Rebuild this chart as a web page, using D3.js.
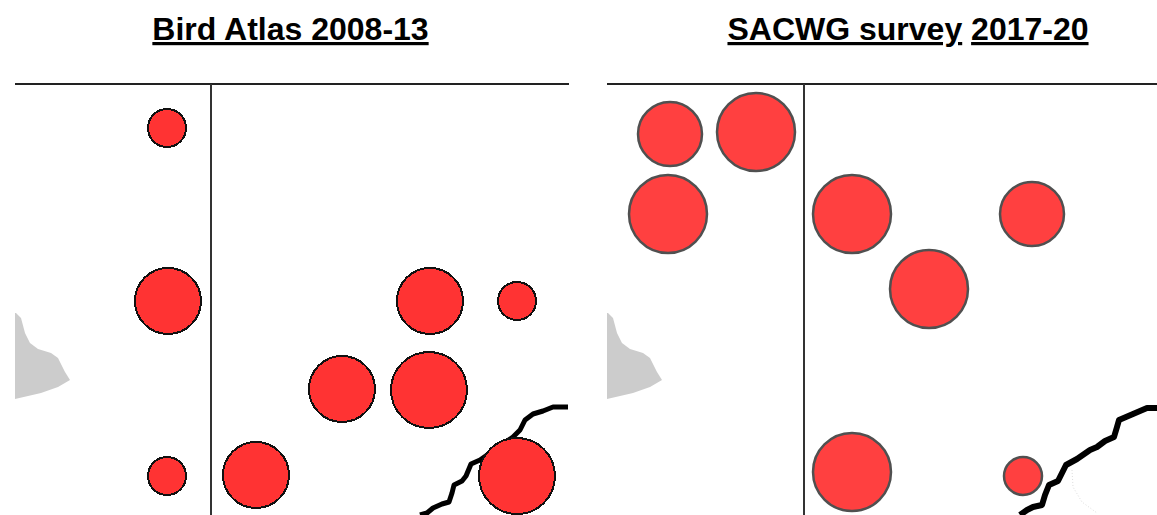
<!DOCTYPE html>
<html>
<head>
<meta charset="utf-8">
<script src="https://cdn.jsdelivr.net/npm/d3@7"></script>
<style>
	html, body { margin: 0; padding: 0; background: #fff; }
	svg { display: block; }
	text { font-family: "Liberation Sans", Arial, sans-serif; font-weight: bold; fill: #000; }
</style>
</head>
<body>
<script>
"use strict";

var atlasX    = [152, 153, 415, 502, 327, 414, 152, 241, 502];
var atlasY    = [ 44, 217, 217, 217, 305, 306, 392, 391, 392];
var atlasSize = [ 19,  33,  33,  19,  33,  38,  19,  33,  38];

var surveyX    = [ 63, 149,  61, 245, 425, 322, 245, 416];
var surveyY    = [ 50,  48, 130, 130, 130, 205, 388, 392];
var surveySize = [ 32,  39,  39,  39,  32,  39,  39,  19];

var atlasCoastX = [405, 412, 418, 427, 434, 437, 439, 447, 451, 456, 465, 498, 505, 510, 518, 528, 538, 553];
var atlasCoastY = [431, 429, 424, 420, 418, 409, 401, 397, 392, 380, 376, 353, 346, 336, 330, 327, 323, 323];

var surveyCoastX = [413, 420, 426, 435, 438, 442, 451, 455, 459, 470, 483, 490, 498, 507, 510, 512, 526, 540, 550];
var surveyCoastY = [431, 426, 423, 421, 411, 401, 397, 389, 381, 375, 366, 363, 357, 353, 343, 336, 330, 324, 324];

var faintX = [465, 466, 475, 490];
var faintY = [386, 403, 418, 429];

var islandX = [ 0,  1,  6, 10, 15, 23, 36, 43, 50, 55, 43, 26,  0];
var islandY = [229, 229, 234, 249, 259, 265, 269, 274, 288, 296, 303, 309, 315];

var titleAtlas = ["Bird Atlas 2008-13"];
var titleSurvey = ["SACWG survey", "2017-20"];

var width = 1157;
var height = 515;
var panelTop = 84;
var panelHeight = height - panelTop;

var svg = d3.select("body").append("svg")
	.attr("width", width)
	.attr("height", height);

function zipXY(xs, ys) {
	return xs.map(function(d, i) { return [d, ys[i]]; });
}

function drawPanel(opts) {
	var x = d3.scaleLinear().domain([0, opts.width]).range([opts.left, opts.left + opts.width]);
	var y = d3.scaleLinear().domain([0, panelHeight]).range([panelTop, height]);
	var line = d3.line()
		.x(function(d) { return x(d[0]); })
		.y(function(d) { return y(d[1]); });

	var clipId = "clip" + opts.left;
	svg.append("clipPath").attr("id", clipId)
		.append("rect")
		.attr("x", opts.left).attr("y", panelTop)
		.attr("width", opts.width).attr("height", panelHeight);

	var g = svg.append("g").attr("clip-path", "url(#" + clipId + ")");

	g.append("path")
		.attr("d", line(zipXY(islandX, islandY)) + "Z")
		.attr("fill", "#cccccc");

	if (opts.faint) {
		g.append("path")
			.attr("d", line(zipXY(faintX, faintY)))
			.attr("fill", "none")
			.attr("stroke", "#dddddd")
			.attr("stroke-dasharray", "1,2");
	}

	g.append("path")
		.attr("d", line(zipXY(opts.coastX, opts.coastY)))
		.attr("fill", "none")
		.attr("stroke", "#000")
		.attr("stroke-width", opts.coastWidth)
		.attr("stroke-linejoin", "round");

	g.selectAll("circle")
		.data(opts.circleX)
		.enter().append("circle")
		.attr("cx", function(d) { return x(d); })
		.attr("cy", function(d, i) { return y(opts.circleY[i]); })
		.attr("r", function(d, i) { return opts.circleSize[i]; })
		.attr("fill", opts.fill)
		.attr("stroke", opts.stroke)
		.attr("stroke-width", opts.strokeWidth)
		.attr("shape-rendering", opts.rendering);

	// frame lines
	svg.append("line")
		.attr("x1", x(0)).attr("x2", x(opts.width))
		.attr("y1", panelTop).attr("y2", panelTop)
		.attr("stroke", "#222").attr("stroke-width", 2);
	svg.append("line")
		.attr("x1", x(opts.divider)).attr("x2", x(opts.divider))
		.attr("y1", panelTop).attr("y2", height)
		.attr("stroke", "#333").attr("stroke-width", 2);

	// words get their own underline, the gap between tspans stays clear
	var title = svg.append("text")
		.attr("x", opts.titleX)
		.attr("y", 40)
		.attr("text-anchor", "middle")
		.attr("font-size", 32);
	opts.title.forEach(function(part, i) {
		if (i > 0) {
			title.append("tspan").text(" ");
		}
		title.append("tspan")
			.attr("text-decoration", "underline")
			.style("text-decoration-thickness", "3px")
			.text(part);
	});
}

drawPanel({
	left: 15, width: 554, divider: 196,
	circleX: atlasX, circleY: atlasY, circleSize: atlasSize,
	coastX: atlasCoastX, coastY: atlasCoastY, coastWidth: 5,
	fill: "#ff3333", stroke: "#111", strokeWidth: 2, rendering: "crispEdges",
	title: titleAtlas, titleX: 290.5
});

drawPanel({
	left: 607, width: 550, divider: 197,
	circleX: surveyX, circleY: surveyY, circleSize: surveySize,
	coastX: surveyCoastX, coastY: surveyCoastY, coastWidth: 6,
	fill: "#ff4040", stroke: "#505050", strokeWidth: 2.5, rendering: "auto",
	faint: true,
	title: titleSurvey, titleX: 908
});
</script>
</body>
</html>
